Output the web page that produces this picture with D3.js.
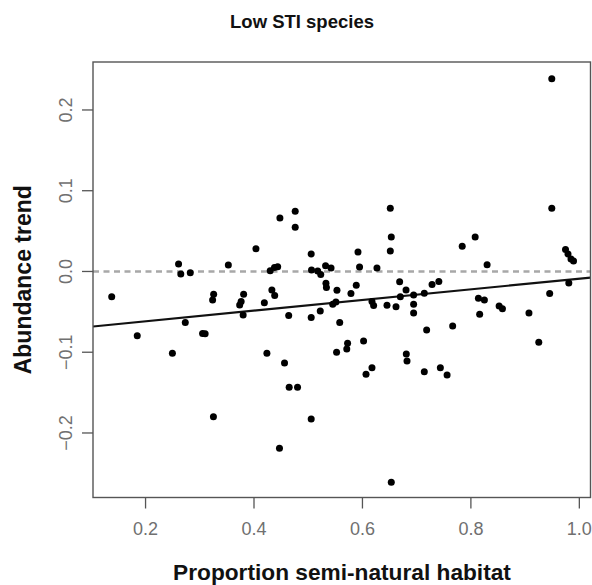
<!DOCTYPE html>
<html>
<head>
<meta charset="utf-8">
<script src="https://cdn.jsdelivr.net/npm/d3@7"></script>
<style>
  html, body { margin: 0; padding: 0; background: #fff; }
  svg { display: block; }
  text { font-family: "Liberation Sans", Arial, sans-serif; }
</style>
</head>
<body>
<script>
// Proportion of semi-natural habitat per site
const habitat = [
  0.1385, 0.1856, 0.2504, 0.2618, 0.2659, 0.2742, 0.2834, 0.3061, 0.3108, 0.3246,
  0.3265, 0.3261, 0.3536, 0.3772, 0.3745, 0.3818, 0.3809, 0.4045, 0.4200, 0.4247,
  0.4308, 0.4387, 0.4446, 0.4339, 0.4391, 0.4487, 0.4479, 0.4572, 0.4649, 0.4658,
  0.4812, 0.4769, 0.4769, 0.5064, 0.5070, 0.5184, 0.5240, 0.5064, 0.5064, 0.5231,
  0.5329, 0.5430, 0.5336, 0.5345, 0.5461, 0.5520, 0.5539, 0.5590, 0.5532, 0.5797,
  0.5895, 0.5735, 0.5720, 0.5927, 0.5956, 0.6030, 0.6075, 0.6185, 0.6185, 0.6215,
  0.6277, 0.6462, 0.6628, 0.6523, 0.6541, 0.6523, 0.6541, 0.6695, 0.6813, 0.6708,
  0.6818, 0.6831, 0.6953, 0.6953, 0.6953, 0.7150, 0.7193, 0.7150, 0.7293, 0.7418,
  0.7446, 0.7570, 0.7673, 0.7849, 0.8088, 0.8308, 0.8148, 0.8258, 0.8171, 0.8530,
  0.8591, 0.9080, 0.9261, 0.9462, 0.9501, 0.9501, 0.9754, 0.9800, 0.9855, 0.9902,
  0.9815
];

// Abundance trend of low-STI species at the same sites
const trend = [
  -0.0312, -0.0796, -0.1013, 0.0093, -0.0031, -0.0631, -0.0016, -0.0768, -0.0771, -0.0353,
  -0.0281, -0.1798, 0.0080, -0.0371, -0.0415, -0.0282, -0.0539, 0.0282, -0.0388, -0.1013,
  0.0009, 0.0050, 0.0059, -0.0229, -0.0297, 0.0662, -0.2189, -0.1133, -0.0545, -0.1434,
  -0.1434, 0.0745, 0.0547, 0.0217, 0.0019, 0.0006, -0.0037, -0.0570, -0.1827, -0.0489,
  0.0071, 0.0043, -0.0146, -0.0198, -0.0405, -0.0378, -0.0232, -0.0633, -0.1000, -0.0272,
  -0.0171, -0.0889, -0.0960, 0.0241, 0.0056, -0.0861, -0.1273, -0.1191, -0.0371, -0.0421,
  0.0043, -0.0419, -0.0436, 0.0783, 0.0427, 0.0254, -0.2610, -0.0126, -0.0229, -0.0312,
  -0.1022, -0.1108, -0.0291, -0.0405, -0.0514, -0.0270, -0.0724, -0.1241, -0.0161, -0.0124,
  -0.1191, -0.1282, -0.0675, 0.0313, 0.0427, 0.0084, -0.0332, -0.0353, -0.0529, -0.0427,
  -0.0461, -0.0514, -0.0877, -0.0272, 0.2388, 0.0783, 0.0272, 0.0217, 0.0155, 0.0130,
  -0.0142
];

// Fitted linear trend: intercept and slope
const fitCoef = [-0.075, 0.066];

const xTicks = [0.2, 0.4, 0.6, 0.8, 1.0];
const yTicks = [-0.2, -0.1, 0.0, 0.1, 0.2];
const xDomain = [0.104, 1.0215];
const yDomain = [-0.2799, 0.2594];

const W = 592, H = 585;
const plot = { left: 93, top: 62, right: 590.5, bottom: 497.5 };

const svg = d3.select("body").append("svg")
  .attr("width", W).attr("height", H);

const x = d3.scaleLinear().domain(xDomain).range([plot.left, plot.right]);
const y = d3.scaleLinear().domain(yDomain).range([plot.bottom, plot.top]);

svg.append("defs").append("clipPath").attr("id", "plot-clip")
  .append("rect")
  .attr("x", plot.left).attr("y", plot.top)
  .attr("width", plot.right - plot.left).attr("height", plot.bottom - plot.top);

// Axes
const xAxis = svg.append("g")
  .attr("transform", `translate(0,${plot.bottom})`)
  .call(d3.axisBottom(x).tickValues(xTicks).tickSize(11).tickSizeOuter(0).tickPadding(14)
    .tickFormat(d3.format(".1f")));
const yAxis = svg.append("g")
  .attr("transform", `translate(${plot.left},0)`)
  .call(d3.axisLeft(y).tickValues(yTicks).tickSize(11).tickSizeOuter(0)
    .tickFormat(d3.format(".1f")));

[xAxis, yAxis].forEach(g => {
  g.select(".domain").remove();
  g.selectAll(".tick line").attr("stroke", "#555").attr("stroke-width", 1.3);
  g.selectAll(".tick text")
    .attr("fill", "#707070").attr("font-size", 18);
});
xAxis.selectAll(".tick text").attr("dy", "0.71em");
// Vertical tick labels, read bottom-to-top
yAxis.selectAll(".tick").attr("transform", null);
yAxis.selectAll(".tick line")
  .attr("transform", d => `translate(0,${y(d)})`);
yAxis.selectAll(".tick text")
  .attr("text-anchor", "middle")
  .attr("dy", null)
  .attr("x", 0).attr("y", 0)
  .attr("dominant-baseline", "central")
  .attr("transform", d => `translate(-27,${y(d)}) rotate(-90)`);

// Reference line at zero
svg.append("line")
  .attr("x1", plot.left).attr("x2", plot.right)
  .attr("y1", y(0)).attr("y2", y(0))
  .attr("stroke", "#a8a8a8").attr("stroke-width", 2.6)
  .attr("stroke-dasharray", "6,4.5");

// Fitted line
svg.append("line")
  .attr("clip-path", "url(#plot-clip)")
  .attr("x1", x(xDomain[0])).attr("y1", y(fitCoef[0] + fitCoef[1] * xDomain[0]))
  .attr("x2", x(xDomain[1])).attr("y2", y(fitCoef[0] + fitCoef[1] * xDomain[1]))
  .attr("stroke", "#111").attr("stroke-width", 2.2);

// Points
svg.append("g").selectAll("circle")
  .data(habitat.map((h, i) => [h, trend[i]]))
  .join("circle")
  .attr("cx", d => x(d[0]))
  .attr("cy", d => y(d[1]))
  .attr("r", 3.5)
  .attr("fill", "#000");

// Plot frame
svg.append("rect")
  .attr("x", plot.left).attr("y", plot.top)
  .attr("width", plot.right - plot.left).attr("height", plot.bottom - plot.top)
  .attr("fill", "none").attr("stroke", "#555").attr("stroke-width", 1.4);

// Titles
svg.append("text")
  .attr("x", 302).attr("y", 28)
  .attr("text-anchor", "middle")
  .attr("font-weight", "bold").attr("font-size", 18.5)
  .attr("fill", "#111")
  .text("Low STI species");

svg.append("text")
  .attr("x", 342).attr("y", 580)
  .attr("text-anchor", "middle")
  .attr("font-weight", "bold").attr("font-size", 22.7)
  .attr("fill", "#111")
  .text("Proportion semi-natural habitat");

svg.append("text")
  .attr("transform", `translate(31,${(plot.top + plot.bottom) / 2}) rotate(-90)`)
  .attr("text-anchor", "middle")
  .attr("font-weight", "bold").attr("font-size", 23)
  .attr("fill", "#111")
  .text("Abundance trend");
</script>
</body>
</html>
